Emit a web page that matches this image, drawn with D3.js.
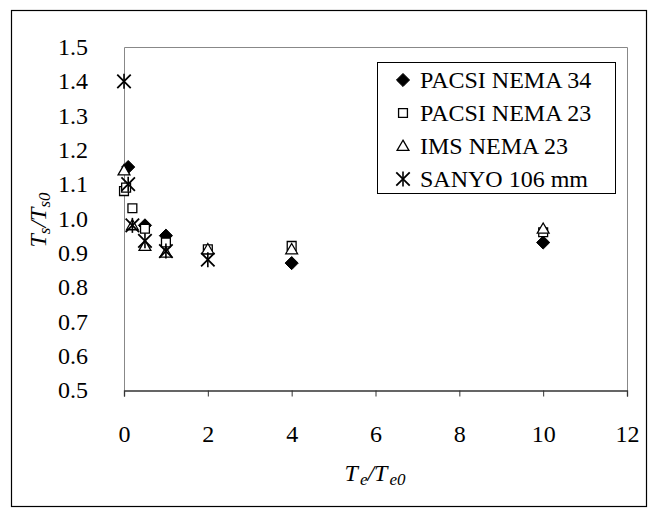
<!DOCTYPE html>
<html><head><meta charset="utf-8">
<script src="https://cdn.jsdelivr.net/npm/d3@7"></script>
<style>body{margin:0;background:#fff}svg{display:block}</style>
</head><body>
<script>
const seriesNames = ["PACSI NEMA 34","PACSI NEMA 23","IMS NEMA 23","SANYO 106 mm"];
const pacsi34X = [0.1, 0.5, 1, 4, 10];
const pacsi34Y = [1.15, 0.98, 0.95, 0.87, 0.93];
const pacsi23X = [0, 0.05, 0.2, 0.5, 1, 2, 4, 10];
const pacsi23Y = [1.08, 1.09, 1.03, 0.97, 0.93, 0.91, 0.92, 0.96];
const imsX = [0, 0.2, 0.5, 1, 2, 4, 10];
const imsY = [1.14, 0.98, 0.92, 0.90, 0.91, 0.91, 0.97];
const sanyoX = [0, 0.1, 0.2, 0.5, 1, 2];
const sanyoY = [1.4, 1.10, 0.98, 0.935, 0.905, 0.88];
const xTicks = [0,2,4,6,8,10,12];
const yTicks = [0.5,0.6,0.7,0.8,0.9,1.0,1.1,1.2,1.3,1.4,1.5];

const W=657,H=508;
const svg=d3.select("body").append("svg").attr("width",W).attr("height",H);
const font="'Liberation Serif','Times New Roman',serif";
const fs=24;

svg.append("rect").attr("x",11.5).attr("y",10.5).attr("width",635).attr("height",496)
  .attr("fill","none").attr("stroke","#000").attr("stroke-width",1.2);

const L=124,R=627,T=47,B=390;
const x=d3.scaleLinear().domain([0,12]).range([L,R]);
const y=d3.scaleLinear().domain([0.5,1.5]).range([B,T]);

// plot area border (grey)
svg.append("path").attr("d",`M${L+0.5},${B}V${T+0.5}H${R+0.5}V${B}`)
  .attr("fill","none").attr("stroke","#888").attr("stroke-width",1);

// x axis
const xa=svg.append("g").attr("transform",`translate(0,${B+0.5})`)
  .call(d3.axisBottom(x).tickValues(xTicks).tickSize(6).tickPadding(28).tickFormat(d3.format("d")));
xa.select(".domain").attr("stroke","#333").attr("stroke-width",1.3);
xa.selectAll(".tick line").attr("stroke","#333");
xa.selectAll("text").attr("font-family",font).attr("font-size",fs).attr("fill","#000");

// y axis labels
const ya=svg.append("g").attr("transform",`translate(${L},0)`)
  .call(d3.axisLeft(y).tickValues(yTicks).tickSize(0).tickPadding(36).tickFormat(d3.format(".1f")));
ya.select(".domain").remove();
ya.selectAll("text").attr("font-family",font).attr("font-size",fs).attr("fill","#000");

// symbols
const sym={
  diamond:d3.symbol().type(d3.symbolDiamond2).size(110),
  square:d3.symbol().type(d3.symbolSquare2).size(100),
  triangle:d3.symbol().type(d3.symbolTriangle2).size(100),
  star:d3.symbol().type(d3.symbolTimes).size(120)
};
function drawStar(g){
  g.append("path").attr("d",sym.star()).attr("fill","none").attr("stroke","#000").attr("stroke-width",1.8);
  g.append("line").attr("x1",0).attr("x2",0).attr("y1",-7.5).attr("y2",7.5).attr("stroke","#000").attr("stroke-width",1.6);
}
function drawMarker(g,k){
  if(k===0) g.append("path").attr("d",sym.diamond()).attr("fill","#000").attr("stroke","#000").attr("stroke-width",1);
  else if(k===1) g.append("path").attr("d",sym.square()).attr("fill","#fff").attr("stroke","#000").attr("stroke-width",1.3);
  else if(k===2) g.append("path").attr("d",sym.triangle()).attr("transform","translate(0,1)").attr("fill","#fff").attr("stroke","#000").attr("stroke-width",1.3);
  else drawStar(g);
}
const series=[[pacsi34X,pacsi34Y],[pacsi23X,pacsi23Y],[imsX,imsY],[sanyoX,sanyoY]];
series.forEach((s,k)=>{
  const pts=s[0].map((v,i)=>[v,s[1][i]]);
  svg.append("g").selectAll("g").data(pts).join("g")
    .attr("transform",d=>`translate(${x(d[0])},${y(d[1])})`)
    .each(function(){drawMarker(d3.select(this),k);});
});

// legend
svg.append("rect").attr("x",377.5).attr("y",62.5).attr("width",238).attr("height",131)
  .attr("fill","#fff").attr("stroke","#000").attr("stroke-width",1);
seriesNames.forEach((n,i)=>{
  const yy=80+i*33;
  const g=svg.append("g").attr("transform",`translate(403,${yy})`);
  drawMarker(g,i);
  svg.append("text").attr("x",420).attr("y",yy+8).attr("font-family",font).attr("font-size",fs).text(n);
});

// axis titles
const xt=svg.append("text").attr("x",375).attr("y",481).attr("text-anchor","middle")
  .attr("font-family",font).attr("font-size",fs).attr("font-style","italic");
xt.append("tspan").text("T");
xt.append("tspan").attr("font-size",17).attr("dy",4).attr("dx",2).text("e");
xt.append("tspan").attr("dy",-4).text("/T");
xt.append("tspan").attr("font-size",17).attr("dy",4).attr("dx",2).text("e0");

const yt=svg.append("text").attr("transform","translate(46,220) rotate(-90)").attr("text-anchor","middle")
  .attr("font-family",font).attr("font-size",fs).attr("font-style","italic");
yt.append("tspan").text("T");
yt.append("tspan").attr("font-size",17).attr("dy",4).text("s");
yt.append("tspan").attr("dy",-4).text("/T");
yt.append("tspan").attr("font-size",17).attr("dy",4).text("s0");
</script>
</body></html>
